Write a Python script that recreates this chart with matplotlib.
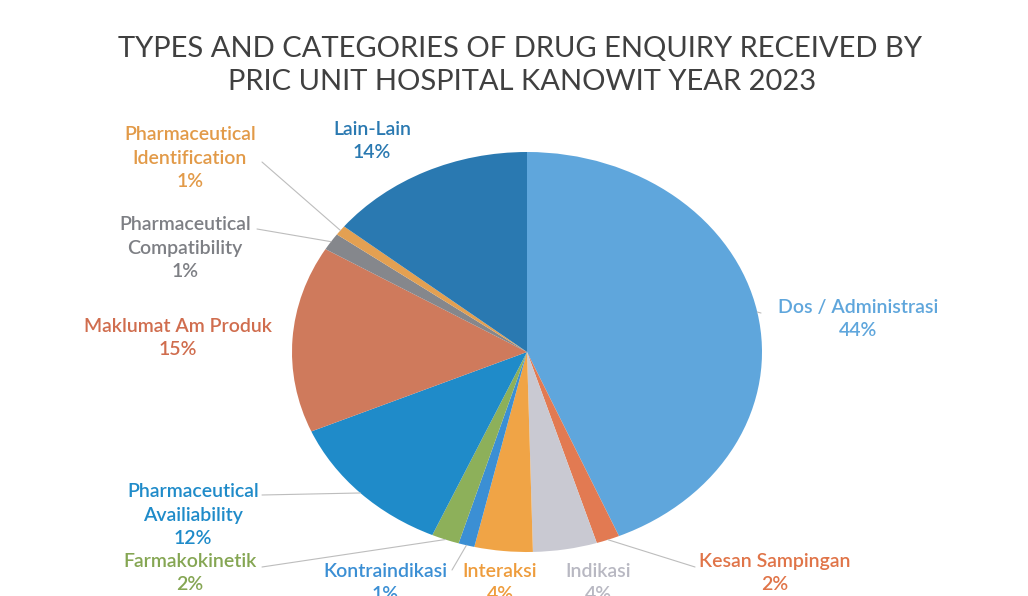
import numpy as np
import matplotlib
matplotlib.use("Agg")
import matplotlib.pyplot as plt
from matplotlib.patches import ConnectionPatch

# data (clockwise from 12 o'clock)
categories = ["Dos / Administrasi", "Kesan Sampingan", "Indikasi", "Interaksi",
              "Kontraindikasi", "Farmakokinetik", "Pharmaceutical\nAvailiability",
              "Maklumat Am Produk", "Pharmaceutical\nCompatibility",
              "Pharmaceutical\nIdentification", "Lain-Lain"]
shares = [43.6, 1.6, 4.4, 4.0, 1.1, 1.9, 11.9, 15.1, 1.4, 0.8, 14.2]

sliceColors = ['#5fa6dc', '#e27a52', '#c9c9d2', '#f0a446', '#3b8fd4', '#8db05a',
               '#1f8bc9', '#cf7a5c', '#85878c', '#e3a052', '#2a79b1']
textColors = ['#5fa6dc', '#e07448', '#b8b8c2', '#ee9c3c', '#3b8fd4', '#85a653',
              '#1f8bc9', '#d06d4e', '#7d7f84', '#e29a48', '#2a79b1']

# label block centres in pixels (x, y from top), and leader start (None = no leader)
labelPos = [(858, 319), (775, 573), (598, 583), (500, 583), (385, 583), (190, 573),
            (193, 515), (178, 338), (185, 248), (190, 158), (372, 141)]
leaderStart = [(761, 313), (695, 567), None, None, (452, 570), (262, 567),
               (262, 495), None, (257, 229), (262, 162), None]

W, H = 1028, 596
fig = plt.figure(figsize=(W / 100, H / 100), dpi=100)

def px(x, y):
    return (x / W, 1 - y / H)

# pie is a bit stretched horizontally in the original
cx, cy, rx, ry = 527, 352, 235, 200
ax = fig.add_axes([(cx - rx) / W, 1 - (cy + ry) / H, 2 * rx / W, 2 * ry / H])
wedges, _ = ax.pie(shares, colors=sliceColors, startangle=90, counterclock=False,
                   radius=1, wedgeprops=dict(linewidth=0))
ax.set_aspect('auto')
ax.set_xlim(-1, 1)
ax.set_ylim(-1, 1)
ax.axis('off')

total = sum(shares)
fontFam = ['Lato', 'DejaVu Sans']
for i, w in enumerate(wedges):
    pct = round(shares[i] / total * 100)
    tx, ty = labelPos[i]
    fig.text(*px(tx, ty), "%s\n%d%%" % (categories[i], pct), ha='center', va='center',
             color=textColors[i], fontsize=14, family=fontFam, fontweight='semibold',
             linespacing=1.45)
    if leaderStart[i] is not None:
        mid = np.deg2rad((w.theta1 + w.theta2) / 2)
        con = ConnectionPatch(xyA=px(*leaderStart[i]), coordsA='figure fraction',
                              xyB=(np.cos(mid), np.sin(mid)), coordsB=ax.transData,
                              color='#bdbdbd', linewidth=0.8)
        fig.add_artist(con)

fig.text(*px(520, 49), "TYPES AND CATEGORIES OF DRUG ENQUIRY RECEIVED BY",
         ha='center', va='center', fontsize=21, color='#404040', family=fontFam)
fig.text(*px(522, 82), "PRIC UNIT HOSPITAL KANOWIT YEAR 2023",
         ha='center', va='center', fontsize=21, color='#404040', family=fontFam)

fig.savefig("out.png", dpi=100, facecolor='white')
